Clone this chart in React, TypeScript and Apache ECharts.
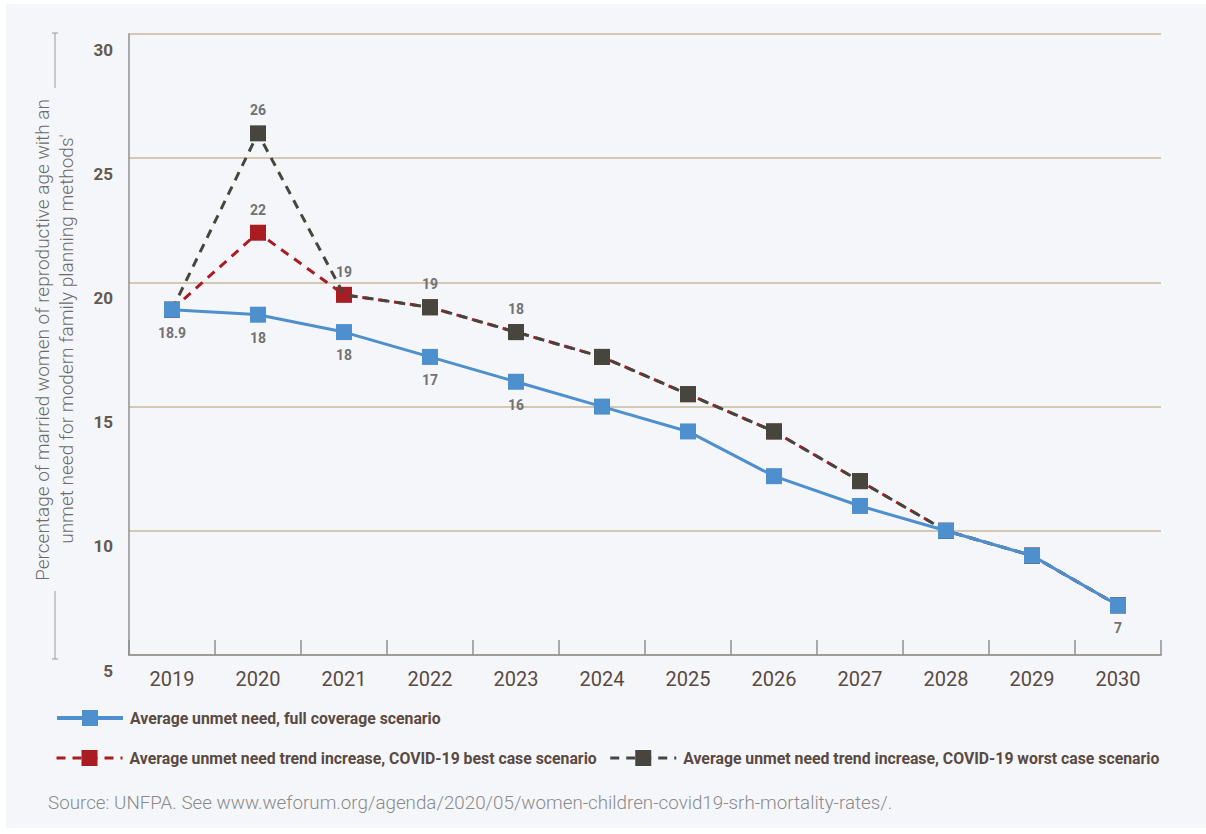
import React, { useEffect, useRef } from "react";
import * as echarts from "echarts";

const years = ["2019", "2020", "2021", "2022", "2023", "2024", "2025", "2026", "2027", "2028", "2029", "2030"];
const fullCoverage = [18.9, 18.7, 18.0, 17.0, 16.0, 15.0, 14.0, 12.2, 11.0, 10.0, 9.0, 7.0];
const fullCoverageLabels = ["18.9", "18", "18", "17", "16", "", "", "", "", "", "", "7"];
const bestCase = [18.9, 22.0, 19.5, 19.0, 18.0, 17.0, 15.5, 14.0, 12.0, 10.0, 9.0, 7.0];
const bestCaseLabels = ["", "22", "19", "", "", "", "", "", "", "", "", ""];
const worstCase = [18.9, 26.0, 19.5, 19.0, 18.0, 17.0, 15.5, 14.0, 12.0, 10.0, 9.0, 7.0];
const worstCaseLabels = ["", "26", "", "19", "18", "", "", "", "", "", "", ""];
const worstCaseHiddenMarker = [false, false, true, false, false, false, false, false, false, false, false, false];
const yTicks = [5, 10, 15, 20, 25, 30];

const seriesNames = [
  "Average unmet need, full coverage scenario",
  "Average unmet need trend increase, COVID-19 best case scenario",
  "Average unmet need trend increase, COVID-19 worst case scenario",
];

const BLUE = "#4e8fcd";
const RED = "#a81c22";
const DARK = "#46463e";

const labelStyle = {
  fontFamily: "Roboto",
  fontWeight: "bold" as const,
  fontSize: 14,
  color: "#727272",
};

function buildData(values: number[], labels: string[], pos: string, hidden?: boolean[]) {
  return values.map((v, i) => {
    const item: any = { value: v };
    if (labels[i]) {
      item.label = { show: true, position: pos, distance: 8, formatter: labels[i], ...labelStyle };
    }
    if (hidden && hidden[i]) item.symbol = "none";
    return item;
  });
}

export default function App() {
  const ref = useRef<HTMLDivElement>(null);
  useEffect(() => {
    document.body.style.margin = "0";
    const chart = echarts.init(ref.current!, null, { renderer: "svg" });
    const legendText = { fontFamily: "Roboto", fontWeight: "bold", fontSize: 15.8, color: "#5a4a42", padding: [0, 0, 0, 2] };
    const option: any = {
      animation: false,
      backgroundColor: "#ffffff",
      graphic: [
        { type: "rect", z: -10, shape: { x: 6, y: 4, width: 1200, height: 824 }, style: { fill: "#f5f6fa" } },
        { type: "line", shape: { x1: 55, y1: 33, x2: 55, y2: 88 }, style: { stroke: "#9a9a9a", lineWidth: 1 } },
        { type: "line", shape: { x1: 52, y1: 33, x2: 58, y2: 33 }, style: { stroke: "#9a9a9a", lineWidth: 1 } },
        { type: "line", shape: { x1: 55, y1: 591, x2: 55, y2: 659 }, style: { stroke: "#9a9a9a", lineWidth: 1 } },
        { type: "line", shape: { x1: 52, y1: 659, x2: 58, y2: 659 }, style: { stroke: "#9a9a9a", lineWidth: 1 } },
        {
          type: "text",
          x: 42,
          y: 340,
          rotation: Math.PI / 2,
          style: {
            text: "Percentage of married women of reproductive age with an",
            fontFamily: "Roboto",
            fontSize: 19,
            fontWeight: 300,
            fill: "#6b6b6b",
            align: "center",
            verticalAlign: "middle",
          },
        },
        {
          type: "text",
          x: 66,
          y: 339,
          rotation: Math.PI / 2,
          style: {
            text: "unmet need for modern family planning methods'",
            fontFamily: "Roboto",
            fontSize: 19,
            fontWeight: 300,
            fill: "#6b6b6b",
            align: "center",
            verticalAlign: "middle",
          },
        },
        {
          type: "text",
          x: 48,
          y: 803,
          style: {
            text: "Source: UNFPA. See www.weforum.org/agenda/2020/05/women-children-covid19-srh-mortality-rates/.",
            fontFamily: "Roboto",
            fontSize: 18.8,
            fontWeight: 300,
            fill: "#8a8a8a",
            verticalAlign: "middle",
          },
        },
      ],
      grid: { left: 129, right: 45, top: 34, bottom: 179, containLabel: false },
      legend: [
        {
          data: [seriesNames[0]],
          left: 50,
          top: 705,
          itemWidth: 66,
          itemHeight: 20,
          lineStyle: { width: 4 },
          textStyle: legendText,
        },
        {
          data: [seriesNames[1], seriesNames[2]],
          left: 50,
          top: 745,
          itemWidth: 66,
          itemHeight: 20,
          itemGap: 12,
          lineStyle: { width: 3 },
          textStyle: legendText,
        },
      ],
      xAxis: {
        type: "category",
        data: years,
        boundaryGap: true,
        axisLine: { show: true, lineStyle: { color: "#a39c92", width: 2 } },
        axisTick: { show: true, inside: true, length: 15, lineStyle: { color: "#8f8f8f", width: 1.5 } },
        axisLabel: { fontFamily: "Roboto", fontSize: 20, color: "#5a4a42", margin: 14 },
        splitLine: { show: false },
      },
      yAxis: {
        type: "value",
        min: yTicks[0],
        max: yTicks[yTicks.length - 1],
        interval: 5,
        axisLine: { show: true, lineStyle: { color: "#8f8f8f", width: 1.5 } },
        axisTick: { show: false },
        axisLabel: {
          fontFamily: "Roboto",
          fontWeight: "bold",
          fontSize: 17,
          color: "#66584d",
          margin: 16,
          verticalAlign: "top",
          padding: [7, 0, 0, 0],
        },
        splitLine: { show: true, lineStyle: { color: "#c8b99b", width: 1.5 } },
      },
      series: [
        {
          name: seriesNames[1],
          type: "line",
          data: buildData(bestCase, bestCaseLabels, "top", undefined),
          symbol: "rect",
          symbolSize: 16,
          z: 2,
          lineStyle: { color: RED, width: 3, type: [9, 7] },
          itemStyle: { color: RED },
        },
        {
          name: seriesNames[2],
          type: "line",
          data: buildData(worstCase, worstCaseLabels, "top", worstCaseHiddenMarker),
          symbol: "rect",
          symbolSize: 16,
          z: 3,
          lineStyle: { color: DARK, width: 3, type: [9, 7] },
          itemStyle: { color: DARK },
        },
        {
          name: seriesNames[0],
          type: "line",
          data: buildData(fullCoverage, fullCoverageLabels, "bottom", undefined),
          symbol: "rect",
          symbolSize: 16,
          z: 4,
          lineStyle: { color: BLUE, width: 3 },
          itemStyle: { color: BLUE },
        },
      ],
    };
    chart.setOption(option);
    return () => chart.dispose();
  }, []);
  return <div ref={ref} style={{ width: 1206, height: 834 }} />;
}
